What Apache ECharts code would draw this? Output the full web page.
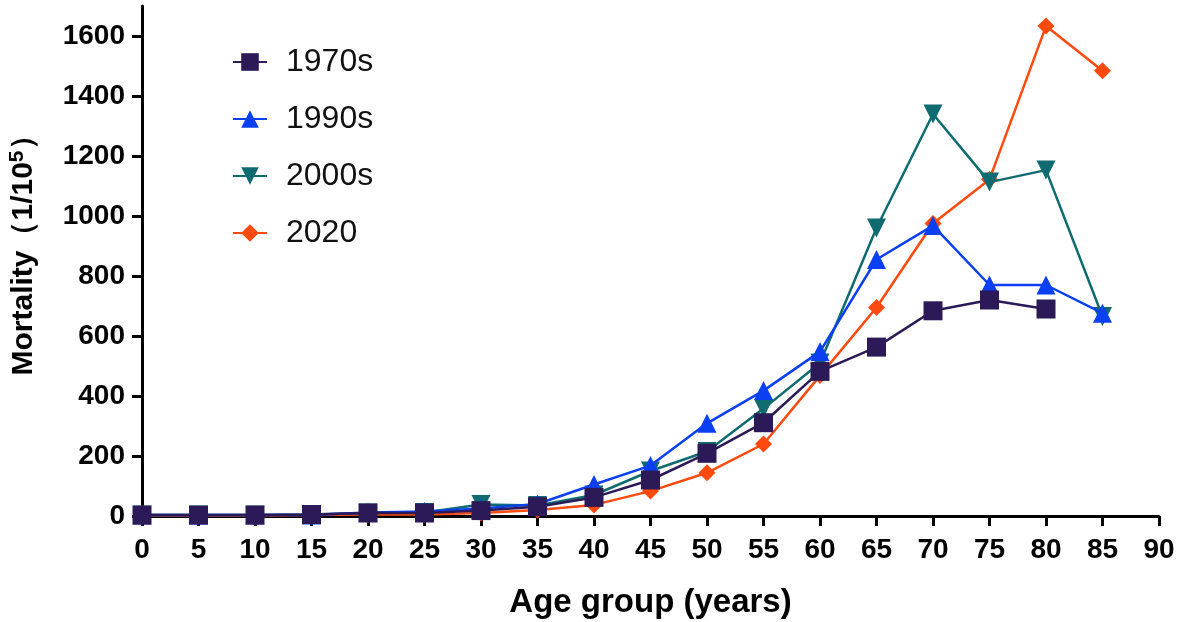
<!DOCTYPE html>
<html>
<head>
<meta charset="utf-8">
<script src="https://cdn.jsdelivr.net/npm/echarts@6/dist/echarts.min.js"></script>
<style>
  html, body { margin: 0; padding: 0; background: #fff; }
  #main { width: 1181px; height: 622px; }
</style>
</head>
<body>
<div id="main"></div>
<script>
const ages = [0, 5, 10, 15, 20, 25, 30, 35, 40, 45, 50, 55, 60, 65, 70, 75, 80, 85]
const s1970 = [3, 3, 3, 5, 10, 10, 18, 31, 62, 120, 209, 311, 482, 563, 684, 720, 690, null]
const s1990 = [3, 3, 3, 3, 12, 15, 25, 40, 105, 168, 309, 418, 548, 855, 968, 770, 770, 676]
const s2000 = [3, 3, 3, 5, 10, 12, 38, 35, 70, 150, 215, 358, 510, 960, 1340, 1113, 1153, 665]
const s2020 = [2, 2, 2, 3, 5, 5, 10, 20, 37, 83, 144, 240, 468, 695, 975, 1122, 1633, 1484]
const yTicks = [0, 200, 400, 600, 800, 1000, 1200, 1400, 1600]
const xTicks = [0, 5, 10, 15, 20, 25, 30, 35, 40, 45, 50, 55, 60, 65, 70, 75, 80, 85, 90]

const font = 'Liberation Sans, Arial, sans-serif'

function pairs(vals) {
  return ages.map((a, i) => [a, vals[i]]).filter(p => p[1] != null)
}

function line(name, vals, color, symbol, size, z, rotate) {
  return {
    name: name,
    type: 'line',
    data: pairs(vals),
    z: z,
    symbol: symbol,
    symbolSize: size,
    symbolRotate: rotate || 0,
    lineStyle: { color: color, width: 2.5 },
    itemStyle: { color: color },
    emphasis: { disabled: true },
    animation: false
  }
}

const chart = echarts.init(document.getElementById('main'))
chart.setOption({
  backgroundColor: '#fff',
  grid: { left: 142, right: 22, top: 6, bottom: 106, outerBoundsMode: 'none' },
  legend: {
    orient: 'vertical',
    left: 227,
    top: 41,
    itemWidth: 34,
    itemHeight: 22,
    itemGap: 25,
    data: ['1970s', '1990s', '2000s', '2020'],
    textStyle: { fontFamily: font, fontSize: 32, color: '#111', padding: [0, 0, 0, 14] }
  },
  xAxis: {
    type: 'value',
    min: 0,
    max: 90,
    interval: 5,
    name: 'Age group (years)',
    nameLocation: 'middle',
    nameGap: 70,
    nameTextStyle: { fontFamily: font, fontSize: 33, fontWeight: 'bold', color: '#000' },
    axisLine: { onZero: false, lineStyle: { color: '#000', width: 3 } },
    axisTick: { length: 10, lineStyle: { color: '#000', width: 3 }, customValues: xTicks },
    axisLabel: { fontFamily: font, fontSize: 28, fontWeight: 'bold', color: '#000', margin: 20, customValues: xTicks },
    splitLine: { show: false }
  },
  yAxis: {
    type: 'value',
    min: 0,
    max: 1700,
    interval: 200,
    name: '{t|Mortality\uFF081/10}{s|5}{t|\uFF09}',
    nameLocation: 'middle',
    nameGap: 102,
    nameTextStyle: {
      padding: [0, 0, 0, 26],
      rich: {
        t: { fontFamily: font, fontSize: 30, fontWeight: 'bold', color: '#000' },
        s: { fontFamily: font, fontSize: 21, fontWeight: 'bold', color: '#000', verticalAlign: 'top', padding: [0, 0, 12, 0] }
      }
    },
    axisLine: { show: true, lineStyle: { color: '#000', width: 3 } },
    axisTick: { show: true, length: 10, lineStyle: { color: '#000', width: 3 }, customValues: yTicks },
    axisLabel: {
      fontFamily: font, fontSize: 28, fontWeight: 'bold', color: '#000', margin: 17,
      customValues: yTicks,
      formatter: v => String(v)
    },
    splitLine: { show: false }
  },
  series: [
    line('2020', s2020, '#ff4a0f', 'diamond', 17, 2),
    line('2000s', s2000, '#0f6b70', 'triangle', 19, 3, 180),
    line('1990s', s1990, '#0b3ff2', 'triangle', 19, 4),
    line('1970s', s1970, '#2b1a57', 'rect', 19, 5)
  ]
})
</script>
</body>
</html>
